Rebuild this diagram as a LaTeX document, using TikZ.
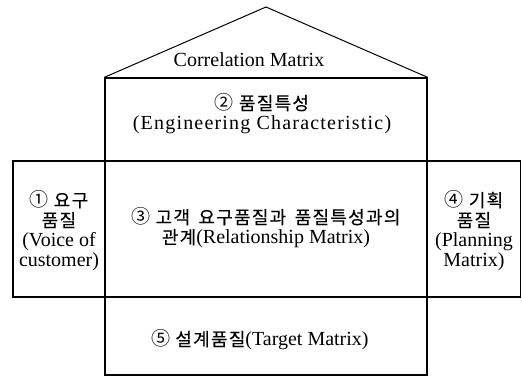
\documentclass[tikz,border=0pt]{standalone}
\usepackage{fontspec}
\setmainfont{Liberation Serif}
\newfontfamily\kr[Scale=0.9,LetterSpace=7,WordSpace=1.6,FakeBold=0.3]{Noto Sans CJK KR}
\newfontfamily\krc[Scale=0.95]{Noto Sans CJK KR}
\begin{document}
\begin{tikzpicture}[x=1pt,y=-1pt,
  box/.style={draw,line width=1.3pt,rectangle,inner sep=0pt},
  lbl/.style={inner sep=0pt,align=center,font=\fontsize{20}{20}\selectfont}]
\useasboundingbox (0,0) rectangle (522,377);
\node[box,minimum width=322pt,minimum height=83pt] (ec) at (266,119.5) {};
\node[box,minimum width=92pt,minimum height=136pt] (voc) at (59,229) {};
\node[box,minimum width=322pt,minimum height=136pt] (rm) at (266,229) {};
\node[box,minimum width=93.5pt,minimum height=136pt] (pm) at (473.75,229) {};
\node[box,minimum width=322pt,minimum height=78pt] (tm) at (266,336) {};
\coordinate (apex) at (266,7);
\draw[line width=1pt] (ec.north west) -- (apex) -- (ec.north east);
\node[lbl] (cm) at (249,60) {Correlation Matrix};
\node[lbl] (ect) at (262,114) {{\krc ②} {\kr 품질특성}\\{\addfontfeature{LetterSpace=6}(Engineering Characteristic)}};
\node[lbl] (voct) at (59,231) {{\krc ①} {\kr 요구}\\{\kr 품질}\\(Voice of\\customer)};
\node[lbl] (rmt) at (266,228) {{\krc ③} {\kr 고객 요구품질과 품질특성과의}\\{\kr 관계}(Relationship Matrix)};
\node[lbl] (pmt) at (474,231) {{\krc ④} {\kr 기획}\\{\kr 품질}\\(Planning\\Matrix)};
\node[lbl] (tmt) at (260,340) {{\krc ⑤} {\kr 설계품질}(Target Matrix)};
\end{tikzpicture}
\end{document}
